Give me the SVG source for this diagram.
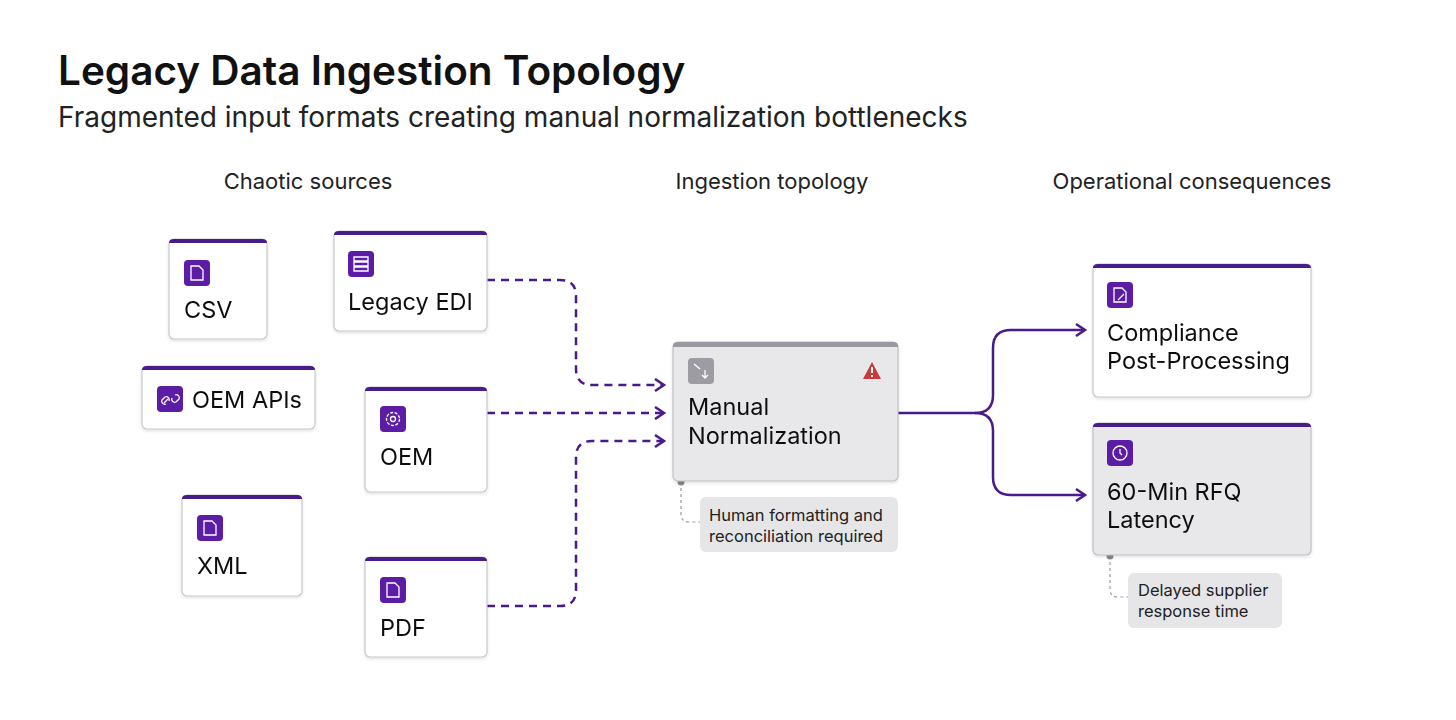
<svg xmlns="http://www.w3.org/2000/svg" width="1456" height="720" viewBox="0 0 1456 720">
<defs>
<style>
text{font-family:Inter,"Liberation Sans",sans-serif;fill:#111}
.card{fill:#fff;stroke:#c8c8cc;stroke-width:1.2}
.gcard{fill:#e8e8ea;stroke:#c0c0c4;stroke-width:1.2}
.bar{fill:#4a1a8c}
.lbl{font-size:23.5px}
.hdr{font-size:22px;text-anchor:middle;fill:#222}
.ic{fill:#5b1fa6}
.icl{fill:none;stroke:#fff;stroke-width:1.3}
.dash{fill:none;stroke:#4a1a8c;stroke-width:2.5;stroke-dasharray:8 6}
.solid{fill:none;stroke:#4a1a8c;stroke-width:2.5}
.note{fill:#e6e6e8}
.nt{font-size:16.5px;fill:#222}
.lead{fill:none;stroke:#999;stroke-width:1.2;stroke-dasharray:3 3}
</style>
<marker id="ah" markerWidth="14" markerHeight="14" refX="11" refY="7" orient="auto" markerUnits="userSpaceOnUse">
<path d="M2,1 L11,7 L2,13" fill="none" stroke="#4a1a8c" stroke-width="2.5"/>
</marker>
<filter id="sh" x="-10%" y="-10%" width="120%" height="130%"><feDropShadow dx="0" dy="1.5" stdDeviation="1.5" flood-opacity="0.12"/></filter>
</defs>
<rect width="1456" height="720" fill="#fff"/>
<text x="58" y="85" font-size="40.5" font-weight="600">Legacy Data Ingestion Topology</text>
<text x="58" y="127" font-size="28" style="fill:#222">Fragmented input formats creating manual normalization bottlenecks</text>
<text class="hdr" x="308" y="189">Chaotic sources</text>
<text class="hdr" x="772" y="189">Ingestion topology</text>
<text class="hdr" x="1192" y="189">Operational consequences</text>

<g id="connectors">
<path class="dash" d="M487,280 H560 Q576,280 576,296 V369 Q576,385 592,385 H664" marker-end="url(#ah)"/>
<path class="dash" d="M487,413 H664" marker-end="url(#ah)"/>
<path class="dash" d="M487,606 H560 Q576,606 576,590 V457 Q576,441 592,441 H664" marker-end="url(#ah)"/>
<path class="solid" d="M898,413 H975 Q993,413 993,395 V348 Q993,330 1011,330 H1085" marker-end="url(#ah)"/>
<path class="solid" d="M975,413 Q993,413 993,431 V477 Q993,495 1011,495 H1085" marker-end="url(#ah)"/>
<path class="lead" d="M681,482 V514 Q681,522 689,522 H700"/>
<path class="lead" d="M1110,556 V589 Q1110,597 1118,597 H1128"/>
<circle cx="681" cy="482" r="3.5" fill="#888"/>
<circle cx="1110" cy="556" r="3.5" fill="#888"/>
</g>

<g id="csv" filter="url(#sh)"><rect class="card" x="169" y="239" width="98" height="100" rx="5"/><path class="bar" d="M174,239 H262 Q267,239 267,243 V243 H169 Q169,239 174,239Z"/>
<rect class="ic" x="184" y="260" width="26" height="26" rx="4"/><path class="icl" d="M191,266 h8 l4,4 v10 h-12z"/>
<text class="lbl" x="184" y="318">CSV</text></g>

<g id="edi" filter="url(#sh)"><rect class="card" x="334" y="231" width="153" height="100" rx="5"/><path class="bar" d="M339,231 H482 Q487,231 487,235 H334 Q334,231 339,231Z"/>
<rect class="ic" x="348" y="251" width="26" height="26" rx="4"/><path class="icl" d="M354,257 h14 v4 h-14z M354,262 h14 v4 h-14z M354,267 h14 v4 h-14z"/>
<text class="lbl" x="348" y="310">Legacy EDI</text></g>

<g id="oemapis" filter="url(#sh)"><rect class="card" x="142" y="366" width="173" height="63" rx="5"/><path class="bar" d="M147,366 H310 Q315,366 315,370 H142 Q142,366 147,366Z"/>
<rect class="ic" x="157" y="386" width="26" height="26" rx="4"/><path class="icl" d="M164,403 l4,-4 M166,404 a3,3 0 0 1 -4,-4 l3,-3 a3,3 0 0 1 4,4 M175,395 a3,3 0 0 1 4,4 l-3,3 a3,3 0 0 1 -4,-4"/>
<text class="lbl" x="192" y="408">OEM APIs</text></g>

<g id="oem" filter="url(#sh)"><rect class="card" x="365" y="387" width="122" height="105" rx="5"/><path class="bar" d="M370,387 H482 Q487,387 487,391 H365 Q365,387 370,387Z"/>
<rect class="ic" x="380" y="406" width="26" height="26" rx="4"/><circle class="icl" cx="393" cy="419" r="6.5" stroke-dasharray="3 1.5"/><circle class="icl" cx="393" cy="419" r="2.5"/>
<text class="lbl" x="380" y="465">OEM</text></g>

<g id="xml" filter="url(#sh)"><rect class="card" x="182" y="495" width="120" height="101" rx="5"/><path class="bar" d="M187,495 H297 Q302,495 302,499 H182 Q182,495 187,495Z"/>
<rect class="ic" x="197" y="515" width="26" height="26" rx="4"/><path class="icl" d="M204,521 h8 l4,4 v10 h-12z"/>
<text class="lbl" x="197" y="574">XML</text></g>

<g id="pdf" filter="url(#sh)"><rect class="card" x="365" y="557" width="122" height="100" rx="5"/><path class="bar" d="M370,557 H482 Q487,557 487,561 H365 Q365,557 370,557Z"/>
<rect class="ic" x="380" y="577" width="26" height="26" rx="4"/><path class="icl" d="M387,583 h8 l4,4 v10 h-12z"/>
<text class="lbl" x="380" y="636">PDF</text></g>

<g id="manual" filter="url(#sh)"><rect class="gcard" x="673" y="342" width="225" height="139" rx="5"/><path d="M678,342 H893 Q898,342 898,346 V347 H673 V346 Q673,342 678,342Z" fill="#9a9aa0"/>
<rect x="688" y="358" width="26" height="26" rx="4" fill="#9c9ca2"/><path d="M694,364 l6,5 M705,370 v8 M702,375 l3,3 3,-3" fill="none" stroke="#fff" stroke-width="1.3"/>
<path d="M872,362 L881,379 H863Z" fill="#c83a3a"/><rect x="871" y="367" width="2" height="6" fill="#fff"/><rect x="871" y="375" width="2" height="2" fill="#fff"/>
<text class="lbl" x="688" y="415">Manual</text><text class="lbl" x="688" y="444">Normalization</text></g>
<g id="note1"><rect class="note" x="700" y="497" width="198" height="55" rx="6"/><text class="nt" x="709" y="521">Human formatting and</text><text class="nt" x="709" y="542">reconciliation required</text></g>

<g id="compliance" filter="url(#sh)"><rect class="card" x="1093" y="264" width="218" height="133" rx="5"/><path class="bar" d="M1098,264 H1306 Q1311,264 1311,268 H1093 Q1093,264 1098,264Z"/>
<rect class="ic" x="1107" y="282" width="26" height="26" rx="4"/><path class="icl" d="M1114,288 h8 l4,4 v10 h-12z M1118,300 l6,-6"/>
<text class="lbl" x="1107" y="341">Compliance</text><text class="lbl" x="1107" y="369">Post-Processing</text></g>

<g id="latency" filter="url(#sh)"><rect class="gcard" x="1093" y="423" width="218" height="132" rx="5"/><path class="bar" d="M1098,423 H1306 Q1311,423 1311,427 H1093 Q1093,423 1098,423Z"/>
<rect class="ic" x="1107" y="440" width="26" height="26" rx="4"/><circle class="icl" cx="1120" cy="453" r="7"/><path class="icl" d="M1120,449 v4 l2,2"/>
<text class="lbl" x="1107" y="500">60-Min RFQ</text><text class="lbl" x="1107" y="528">Latency</text></g>
<g id="note2"><rect class="note" x="1128" y="573" width="154" height="55" rx="6"/><text class="nt" x="1138" y="596">Delayed supplier</text><text class="nt" x="1138" y="617">response time</text></g>
</svg>
